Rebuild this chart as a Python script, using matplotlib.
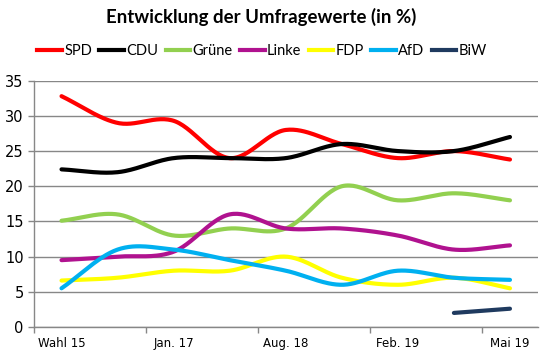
import numpy as np
import matplotlib
matplotlib.use("Agg")
import matplotlib.pyplot as plt
from matplotlib.lines import Line2D

# ---- data ----
tick_labels = ["Wahl 15", "", "Jan. 17", "", "Aug. 18", "", "Feb. 19", "", "Mai 19"]
parties = ["SPD", "CDU", "Grüne", "Linke", "FDP", "AfD", "BiW"]
spd   = [32.8, 29.0, 29.3, 24.0, 28.0, 26.0, 24.0, 25.0, 23.8]
cdu   = [22.4, 22.0, 24.0, 24.0, 24.0, 26.0, 25.0, 25.0, 27.0]
gruene = [15.1, 16.0, 13.0, 14.0, 14.0, 20.0, 18.0, 19.0, 18.0]
linke = [9.5, 10.0, 10.7, 16.0, 14.0, 14.0, 13.0, 11.0, 11.6]
fdp   = [6.6, 7.0, 8.0, 8.0, 10.0, 7.0, 6.0, 7.0, 5.5]
afd   = [5.5, 11.0, 11.0, 9.5, 8.0, 6.0, 8.0, 7.0, 6.7]
biw   = [np.nan, np.nan, np.nan, np.nan, np.nan, np.nan, np.nan, 2.0, 2.6]
colors = ["#FF0000", "#000000", "#92D050", "#B0128F", "#FFFF00", "#00B0F0", "#1F3A5F"]
series = [spd, cdu, gruene, linke, fdp, afd, biw]


def smooth(xs, ys, n=30):
    xs = np.asarray(xs, float)
    ys = np.asarray(ys, float)
    m = ~np.isnan(ys)
    xs, ys = xs[m], ys[m]
    if len(xs) < 3:
        return xs, ys
    # Catmull-Rom spline
    px = np.concatenate([[2 * xs[0] - xs[1]], xs, [2 * xs[-1] - xs[-2]]])
    py = np.concatenate([[2 * ys[0] - ys[1]], ys, [2 * ys[-1] - ys[-2]]])
    outx, outy = [], []
    for i in range(1, len(px) - 2):
        t = np.linspace(0, 1, n, endpoint=(i == len(px) - 3))
        for arr, out in ((px, outx), (py, outy)):
            p0, p1, p2, p3 = arr[i - 1], arr[i], arr[i + 1], arr[i + 2]
            out.extend(0.5 * ((2 * p1) + (-p0 + p2) * t
                              + (2 * p0 - 5 * p1 + 4 * p2 - p3) * t ** 2
                              + (-p0 + 3 * p1 - 3 * p2 + p3) * t ** 3))
    return np.array(outx), np.array(outy)


fig = plt.figure(figsize=(5.49, 3.55), dpi=100)
ax = fig.add_axes([33.5 / 549, 1 - 327 / 355, (538 - 33.5) / 549, (327 - 80.7) / 355])

x = np.arange(len(tick_labels))
grid_c = "#878787"
for ys, c, name in zip(series, colors, parties):
    sx, sy = smooth(x, ys)
    ax.plot(sx, sy, color=c, lw=3.0, solid_capstyle="round", label=name, zorder=3)

ax.set_xlim(-0.5, len(tick_labels) - 0.5)
ax.set_ylim(0, 35)
ax.set_yticks(np.arange(0, 36, 5))
ax.yaxis.grid(True, color=grid_c, lw=1.0)
ax.set_axisbelow(True)

ax.set_xticks(x[::2])
ax.set_xticklabels([l for l in tick_labels[::2]], fontsize=8.5, family="DejaVu Sans")
ax.set_xticks(np.arange(-0.5, len(tick_labels) - 1, 2), minor=True)
ax.tick_params(axis="x", which="major", length=0, pad=7)
ax.tick_params(axis="x", which="minor", length=4, color=grid_c, width=1, direction="out")
ax.tick_params(axis="y", length=4, color=grid_c, width=1, labelsize=10.5, pad=3)

for s in ["top", "right"]:
    ax.spines[s].set_visible(False)
for s in ["left", "bottom"]:
    ax.spines[s].set_color(grid_c)
    ax.spines[s].set_linewidth(1.0)

fig.text(261 / 549, 1 - 17 / 355, "Entwicklung der Umfragewerte (in %)",
         ha="center", va="center", fontsize=13.4, fontweight="bold", family="Lato")

handles = [Line2D([0], [0], color=c, lw=3.0) for c in colors]
fig.legend(handles, parties, loc="center", bbox_to_anchor=(262 / 549, 1 - 51 / 355),
           ncol=7, frameon=False, handlelength=1.7, handletextpad=0.15,
           columnspacing=0.5, prop={"family": "Lato", "size": 10.5})

fig.savefig("out.png", dpi=100)
